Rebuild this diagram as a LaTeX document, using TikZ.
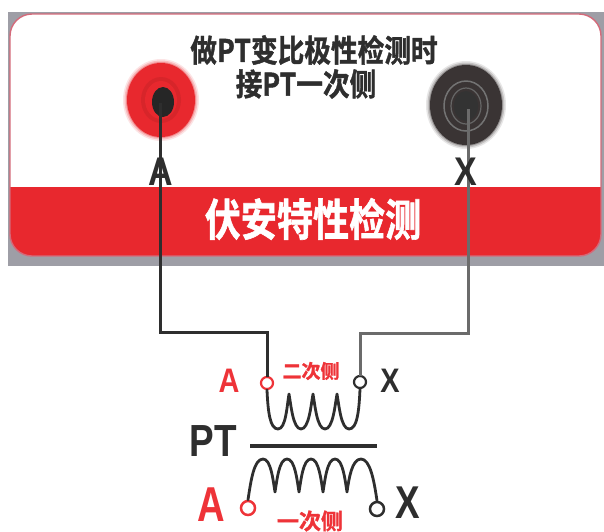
\documentclass[tikz,border=0pt]{standalone}
\usepackage{fontspec}
\usepackage{graphicx}
\setmainfont{Liberation Sans}
\newfontfamily\cjk{Noto Sans CJK SC}[BoldFont={Noto Sans CJK SC Bold}, BoldFeatures={FakeBold=1.4}]
\definecolor{panelred}{HTML}{E8282E}
\definecolor{labelred}{HTML}{EE3338}
\definecolor{ink}{HTML}{2E2E2E}
\definecolor{frame}{HTML}{9E9EA6}
\definecolor{rim}{HTML}{D46A7A}
\definecolor{jackdark}{HTML}{3A3434}
\newcommand{\fs}[1]{\fontsize{#1}{#1}\selectfont}
\tikzset{
  lbl/.style={inner sep=0pt, outer sep=0pt, anchor=center},
  wire/.style={line width=3pt, line cap=rect},
  coil/.style={draw=ink, line width=2.8pt, line cap=round, line join=round},
  term/.style={circle, draw, line width=2.2pt, fill=white, inner sep=0pt},
}
\begin{document}
\begin{tikzpicture}[x=1pt, y=-1pt]
\useasboundingbox (0,0) rectangle (604,531);
\fill[white] (0,0) rectangle (604,531);

% instrument front panel
\fill[frame] (8,12) rectangle (604,266);
\begin{scope}
  \clip[rounded corners=22pt] (10,14) rectangle (601,256);
  \fill[white] (10,14) rectangle (601,256);
  \fill[panelred] (10,187) rectangle (601,256);
\end{scope}
\draw[rim, line width=1.4pt, rounded corners=22pt] (10,14) rectangle (601,256);

% red socket A
\foreach \r/\o in {41/0.12, 39.5/0.2, 38/0.35}
  \fill[panelred, opacity=\o] (161,100) ellipse [x radius=\r-3, y radius=\r];
\fill[panelred] (161,100) ellipse [x radius=34, y radius=37];
\fill[panelred!80!black, opacity=0.35] (161,100) ellipse [x radius=20, y radius=23];
\fill[panelred] (161,100) ellipse [x radius=16, y radius=19];
\fill[black!85] (163,102) ellipse [x radius=11, y radius=15];
\coordinate (jackA) at (160,104);

% black socket X
\foreach \r/\o in {44/0.12, 42.5/0.2, 41/0.35}
  \fill[jackdark, opacity=\o] (466,105) ellipse [x radius=\r-4, y radius=\r];
\fill[jackdark] (466,105) ellipse [x radius=36, y radius=40];
\draw[black!55, line width=1.5pt] (466,106) ellipse [x radius=22, y radius=25];
\draw[black!60, line width=1.2pt] (466,106) ellipse [x radius=15, y radius=18];
\fill[black!80] (466,106) ellipse [x radius=12, y radius=15];
\coordinate (jackX) at (468,110);

% panel texts
\node[lbl, text=ink] (t1) at (314,50) {\scalebox{0.86}[1]{\cjk\bfseries\fs{31}做PT变比极性检测时}};
\node[lbl, text=ink] (t2) at (306,84) {\scalebox{0.86}[1]{\cjk\bfseries\fs{31}接PT一次侧}};
\node[lbl, text=white] (band) at (313,219) {\scalebox{0.82}[1]{\cjk\bfseries\fs{44}伏安特性检测}};

% transformer terminals
\node[term, draw=labelred, minimum size=12pt] (sA) at (267,383) {};
\node[term, draw=ink, minimum size=12pt] (sX) at (360,382) {};
\node[term, draw=labelred, minimum size=14pt, line width=2.5pt] (pA) at (248,508) {};
\node[term, draw=ink, minimum size=14pt, line width=2.5pt] (pX) at (377,509) {};

% test leads
\coordinate (bendA) at (160,332);
\coordinate (bendX) at (468,333);
\draw[wire, draw=ink] (jackA) -- (bendA) -| (sA.north);
\draw[wire, draw=black!58] (jackX) -- (bendX) -| (sX.north);

% socket labels drawn over the leads
\node[lbl, text=ink] (lA) at (161,172) {\scalebox{0.85}[1]{\bfseries\fs{40}A}};
\node[lbl, text=ink] (lX) at (466,172) {\scalebox{0.85}[1]{\bfseries\fs{40}X}};

% secondary winding
\draw[coil] (sA.south)
  .. controls (268,412) and (270,429) .. (278,429)
  .. controls (286,429) and (287,405) .. (289,394)
  .. controls (291,405) and (293,429) .. (301,429)
  .. controls (309,429) and (311,405) .. (313,394)
  .. controls (315,405) and (317,429) .. (325,429)
  .. controls (333,429) and (335,405) .. (337,394)
  .. controls (339,405) and (341,429) .. (349,429)
  .. controls (357,429) and (359,412) .. (sX.south);

% core
\draw[draw=ink, line width=4pt] (250,446) -- (377,446) coordinate (coreR);

% primary winding
\draw[coil] (pA.north)
  .. controls (251,480) and (254,459) .. (263,459)
  .. controls (271,459) and (273,480) .. (275,492)
  .. controls (277,480) and (279,459) .. (287,459)
  .. controls (295,459) and (297,480) .. (299,492)
  .. controls (301,480) and (303,459) .. (311,459)
  .. controls (319,459) and (321,480) .. (323,492)
  .. controls (325,480) and (327,459) .. (335,459)
  .. controls (343,459) and (345,480) .. (347,492)
  .. controls (349,478) and (352,459) .. (361,459)
  .. controls (370,459) and (374,480) .. (pX.north);

% winding labels
\node[lbl, text=labelred] (uA) at (229,381) {\scalebox{0.85}[1]{\bfseries\fs{34}A}};
\node[lbl, text=ink] (uX) at (390,381) {\scalebox{0.85}[1]{\bfseries\fs{34}X}};
\node[lbl, text=labelred] (uSide) at (311,371) {\cjk\bfseries\fs{19}二次侧};
\node[lbl, text=ink] (pt) at (213,441) {\scalebox{0.82}[1]{\bfseries\fs{45}PT}};
\node[lbl, text=labelred] (lwA) at (211,505) {\scalebox{0.78}[1]{\bfseries\fs{49}A}};
\node[lbl, text=ink] (lwX) at (408,503) {\scalebox{0.8}[1]{\bfseries\fs{46}X}};
\node[lbl, text=labelred] (pSide) at (310,521) {\cjk\bfseries\fs{22}一次侧};
\end{tikzpicture}
\end{document}
